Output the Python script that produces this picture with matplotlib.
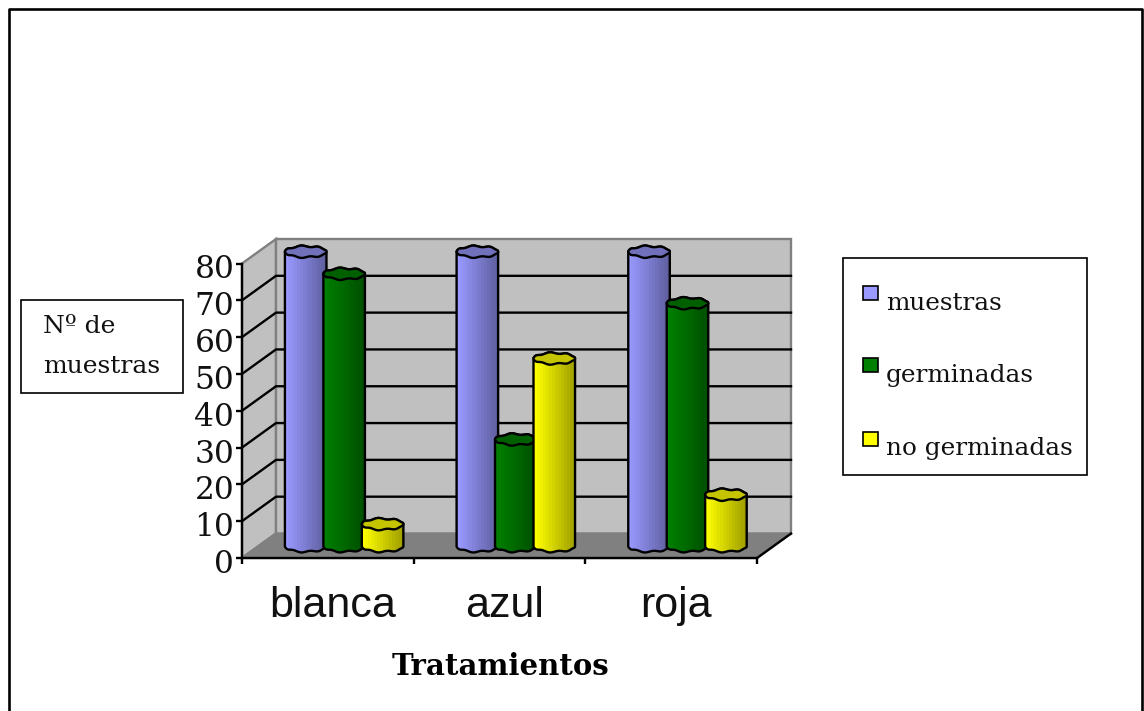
import numpy as np
import matplotlib
matplotlib.use("Agg")
import matplotlib.pyplot as plt
from matplotlib.colors import LinearSegmentedColormap
from matplotlib.patches import Polygon, Rectangle
from matplotlib.transforms import ScaledTranslation

categories = ["blanca", "azul", "roja"]
muestras = [80, 80, 80]
germinadas = [74, 29, 66]
no_germinadas = [6, 51, 14]
y_ticks = [0, 10, 20, 30, 40, 50, 60, 70, 80]

series_names = ["muestras", "germinadas", "no germinadas"]
series_values = [muestras, germinadas, no_germinadas]
light_colors = ["#9999ff", "#008000", "#ffff00"]
dark_colors = ["#5f5f9f", "#005000", "#a0a000"]
top_colors = ["#7070bb", "#006000", "#c4c400"]

W, H = 1144, 711
# depth of the 3D box in data units
DX = 34 / 515 * 3
DY = 24.5 / 294.5 * 80
BAR_STEP = 0.224
BAR_W = 0.242
BAR_DEPTH = 0.48
RY = 1.5

plt.rcParams["font.family"] = ["DejaVu Serif"]

fig = plt.figure(figsize=(W / 100, H / 100), dpi=100, facecolor="white")

# overlay in pixel units for the frame and the text boxes
page = fig.add_axes([0, 0, 1, 1], zorder=2)
page.set_xlim(0, W)
page.set_ylim(H, 0)
page.axis("off")
page.patch.set_alpha(0)

ax = fig.add_axes([242 / W, (H - 558) / H, 515 / W, 294.5 / H], zorder=1)
ax.set_xlim(0, 3)
ax.set_ylim(0, 80)
ax.patch.set_alpha(0)

GRID_LW = 1.7

# walls and floor
ax.add_patch(Polygon([(0, 0), (DX, DY), (DX, 80 + DY), (0, 80)],
                     fc="#c0c0c0", ec="#808080", lw=GRID_LW, clip_on=False, zorder=1))
ax.add_patch(Polygon([(DX, DY), (3 + DX, DY), (3 + DX, 80 + DY), (DX, 80 + DY)],
                     fc="#c0c0c0", ec="#808080", lw=GRID_LW, clip_on=False, zorder=1))
ax.add_patch(Polygon([(0, 0), (3, 0), (3 + DX, DY), (DX, DY)],
                     fc="#808080", ec="#808080", lw=GRID_LW, clip_on=False, zorder=1))
ax.plot([3, 3 + DX], [0, DY], color="black", lw=GRID_LW, clip_on=False, zorder=2)

for v in y_ticks[1:-1]:
    ax.plot([0, DX, 3 + DX], [v, v + DY, v + DY], color="black", lw=GRID_LW,
            clip_on=False, zorder=2, solid_joinstyle="miter")


def rim(cx, cy, half_w, start, stop, n=60):
    # slightly faceted ellipse, the way a low-res cylinder cap looks
    t = np.linspace(start, stop, n)
    x = cx + half_w * np.cos(t)
    y = cy + RY * (np.sin(t) + 0.15 * np.sin(t) * np.cos(7 * t))
    return np.column_stack([x, y])


def draw_cylinder(cx, value, light, dark, top, z):
    half_w = BAR_W / 2
    y0 = BAR_DEPTH * DY
    y1 = value + y0
    lower = rim(cx, y0, half_w, np.pi, 2 * np.pi)
    upper = rim(cx, y1, half_w, 0, np.pi)
    outline = np.vstack([lower, upper])
    body = Polygon(outline, fc="none", ec="black", lw=GRID_LW, clip_on=False, zorder=z + 0.2)
    ax.add_patch(body)

    cmap = LinearSegmentedColormap.from_list("shade", [light, dark], N=14)
    clip = Polygon(outline, transform=ax.transData)
    im = ax.imshow(np.linspace(0, 1, 14).reshape(1, -1), cmap=cmap, aspect="auto",
                   extent=[cx - half_w, cx + half_w, 0, y1 + RY], zorder=z,
                   interpolation="nearest")
    # the caps of the tallest bars stick out above the axes box
    im.set_clip_box(fig.bbox)
    im.set_clip_path(clip)

    cap = rim(cx, y1, half_w, 0, 2 * np.pi, 120)
    ax.add_patch(Polygon(cap, fc=top, ec="black", lw=GRID_LW, clip_on=False, zorder=z + 0.4))


for i in range(len(categories)):
    for j, values in enumerate(series_values):
        center = i + 0.5 + (j - 1) * BAR_STEP + BAR_DEPTH * DX
        draw_cylinder(center, values[i], light_colors[j], dark_colors[j], top_colors[j], 3 + 3 * i + j)

ax.set_xlim(0, 3)
ax.set_ylim(0, 80)

# axes
for side in ["top", "right"]:
    ax.spines[side].set_visible(False)
for side in ["left", "bottom"]:
    ax.spines[side].set_linewidth(GRID_LW)
    ax.spines[side].set_zorder(2.5)
ax.set_yticks(y_ticks)
ax.set_xticks([0, 1, 2, 3])
ax.set_xticklabels([])
ax.set_xticks([0.5, 1.5, 2.5], labels=categories, minor=True)
ax.tick_params(axis="y", length=4.5, width=GRID_LW, labelsize=22.5, pad=1, labelcolor="#111111")
ax.tick_params(axis="x", which="major", length=4.5, width=GRID_LW)
ax.tick_params(axis="x", which="minor", length=0, labelsize=31, pad=20, labelcolor="#111111")

y_shift = ScaledTranslation(0, -3 / 100, fig.dpi_scale_trans)
for lab in ax.get_yticklabels():
    lab.set_transform(lab.get_transform() + y_shift)
x_shift = ScaledTranslation(5 / 100, 0, fig.dpi_scale_trans)
for lab in ax.get_xticklabels(minor=True):
    lab.set_fontfamily(["Liberation Sans"])
    lab.set_transform(lab.get_transform() + x_shift)

# outer frame, open at the bottom edge of the image
page.plot([9, 9, 1142, 1142], [H + 5, 9, 9, H + 5], color="black", lw=1.9, clip_on=False)

# y title box
page.add_patch(Rectangle((21, 300), 162, 93, fc="white", ec="black", lw=1.2))
page.text(43, 333, "Nº de", fontsize=18, color="#111111")
page.text(43, 373, "muestras", fontsize=18, color="#111111")

# x title
page.text(500, 675, "Tratamientos", fontsize=21, fontweight="bold", ha="center", color="black")

# legend box
page.add_patch(Rectangle((843, 258), 244, 217, fc="white", ec="black", lw=1.2))
key_y = [286, 358, 432]
text_y = [310, 382, 455]
for k, name in enumerate(series_names):
    page.add_patch(Rectangle((863, key_y[k]), 15, 14, fc=light_colors[k], ec="black", lw=1.2))
    page.text(886, text_y[k], name, fontsize=17.8, color="#111111")

fig.savefig("out.png", dpi=100)
